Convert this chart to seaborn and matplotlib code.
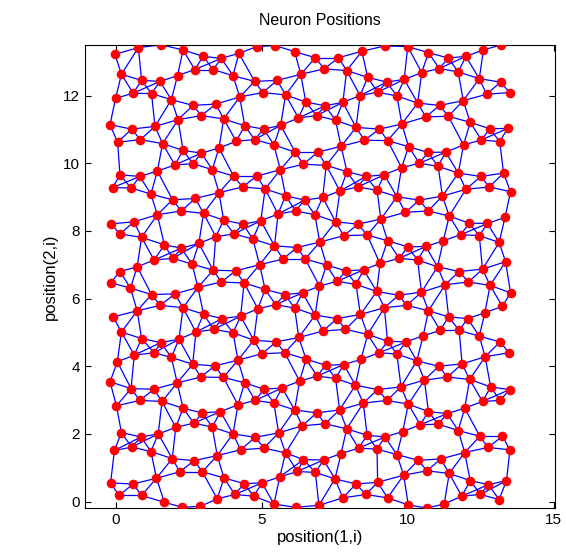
import numpy as np
import pandas as pd
import matplotlib.pyplot as plt
import seaborn as sns

# neuron positions (position(1,i), position(2,i))
pos_x = [
    -0.02, 0.78, 1.57, 2.31, 3.00, 3.62, 4.22, 2.71, 3.34, 4.02, 0.20, 0.89, 1.52, 2.12,
    0.00, 0.60, 1.23, 1.91, 2.65, 3.43, 4.25, 2.94, 2.14, 3.70, -0.19, 0.55, 1.35,
    0.07, 0.85, 1.61, 2.31, 2.94, 3.54, 4.13,
    4.84, 5.46, 6.13, 6.84, 7.63, 8.43, 7.14, 7.91, 6.34, 8.63,
    4.76, 5.53, 5.04, 5.82, 8.97, 8.37, 6.51, 7.17, 7.78, 6.26, 6.88, 7.53, 8.23, 9.03,
    4.42, 5.07, 5.65, 4.76, 5.42, 6.15, 6.92, 7.72, 8.52,
    9.22, 10.00, 10.71, 11.39, 11.99, 12.59, 13.20, 11.08, 11.73, 10.48, 9.88, 9.28, 12.45, 13.18,
    13.49, 12.70, 9.63, 10.34, 11.09, 11.90, 10.62, 11.39, 12.14, 9.80, 12.81, 13.42,
    9.31, 12.52, 13.15, 10.03, 11.91, 10.69, 11.30,
    2.03, 2.65, 0.15, 0.83, 1.43, 3.31, 4.04, -0.10, 0.53, 1.21, 3.54, 1.95, 2.73,
    2.25, 3.01, 1.43, -0.15, 0.63, 3.70, 0.15, 0.89, 3.43, 4.05, 1.67, 2.25, 2.85,
    1.32, 1.96, 2.62, 0.74, 0.15, 3.34, 4.11,
    6.43, 7.21, 5.64, 4.83, 4.35, 5.12, 7.92, 8.57, 7.68, 8.29, 8.95, 5.82, 6.47, 7.09,
    5.56, 6.16, 6.82, 4.97, 4.36, 7.53, 8.30, 4.70, 7.81, 8.61, 5.44, 6.21, 6.99,
    5.73, 6.49, 4.93, 7.22, 9.05, 7.89, 8.49,
    10.40, 9.79, 11.04, 9.20, 11.73, 12.50, 13.28, 11.99, 12.79, 13.52, 9.63, 10.40, 11.19,
    9.92, 10.70, 11.42, 9.08, 13.33, 12.10, 12.73, 11.82, 12.45, 9.31, 11.22, 13.13, 10.00, 10.62,
    9.71, 10.34, 11.02, 13.35, 11.76, 12.56,
    -0.17, 0.51, 1.23, 2.03, 2.82, 3.62, 1.53, 2.31, 0.74, -0.08, 3.01, 3.65, 4.28,
    3.36, 4.02, 2.75, 0.20, 0.89, 1.55, 2.17, 0.64, 1.32, 1.91, 0.06, 2.64, 3.39, 4.19,
    2.92, 3.69, -0.19, 2.11, 0.53, 1.31,
    4.40, 5.12, 5.79, 6.40, 6.98, 7.58, 8.23, 8.94, 5.48, 4.87, 6.13, 6.83, 7.58, 8.38,
    7.10, 7.87, 8.63, 4.73, 5.50, 6.27, 5.01, 5.79, 9.03, 6.52, 7.19, 7.81, 8.40,
    6.90, 7.53, 4.42, 6.30, 5.08, 5.70, 8.21, 8.97,
    11.28, 12.08, 12.82, 13.52, 10.47, 9.69, 9.20, 9.97, 13.24, 10.71, 12.64, 11.40, 12.05,
    11.11, 11.76, 10.53, 12.45, 9.31, 9.94, 13.16, 13.47, 9.63, 12.65, 10.31, 11.86, 11.06,
    10.57, 11.36, 12.12, 9.77, 12.84, 13.49,
    0.03, 0.83, 1.59, 2.31, 2.97, 3.59, 4.19, 2.68, 3.31, 2.06, 0.20, 0.87, 1.46, 4.02,
    -0.04, 0.55, 1.21, 3.48, 4.28, 1.94, 2.69, 2.20, 2.97, 1.40, 3.71, -0.17, 0.60,
    0.12, 0.89, 1.67, 2.28, 2.90, 3.48, 4.08,
    4.78, 5.42, 6.13, 6.88, 7.67, 8.48, 6.39, 7.17, 5.58, 7.91, 4.78, 8.61,
    5.08, 5.82, 6.43, 7.12, 7.72, 8.32, 8.95, 6.22, 6.84, 5.62, 7.51, 4.40, 5.01, 8.23, 8.97,
    4.73, 7.78, 8.57, 5.42, 6.16, 6.96,
    9.29, 10.02, 10.71, 11.35, 11.95, 12.56, 13.16, 10.43, 11.04, 9.83, 11.73, 9.22, 12.47, 13.24,
    12.75, 13.50, 11.95, 9.63, 10.36, 11.13, 10.66, 11.42, 9.86, 13.38, 12.14, 12.76,
    12.49, 11.85, 13.13, 9.31, 10.02, 10.66, 11.25,
]
pos_y = [
    13.22, 13.42, 13.50, 13.35, 13.16, 13.10, 13.25, 12.77, 12.77, 12.59, 12.63, 12.45, 12.42, 12.59,
    11.92, 12.07, 12.06, 11.88, 11.71, 11.75, 11.96, 11.41, 11.29, 11.31, 11.14, 11.01, 11.09,
    10.62, 10.70, 10.58, 10.38, 10.30, 10.45, 10.65,
    13.45, 13.48, 13.30, 13.12, 13.12, 13.31, 12.79, 12.74, 12.63, 12.54,
    12.42, 12.45, 12.09, 12.02, 12.10, 12.00, 11.81, 11.70, 11.80, 11.34, 11.41, 11.27, 11.06, 11.01,
    11.11, 11.01, 11.12, 10.70, 10.54, 10.33, 10.33, 10.50, 10.68,
    13.47, 13.45, 13.27, 13.11, 13.16, 13.35, 13.50, 12.80, 12.70, 12.68, 12.48, 12.40, 12.50, 12.40,
    12.09, 12.04, 11.99, 11.78, 11.71, 11.85, 11.37, 11.39, 11.21, 11.16, 11.02, 11.03,
    10.67, 10.69, 10.64, 10.49, 10.54, 10.32, 10.33,
    9.95, 9.99, 9.66, 9.61, 9.77, 9.81, 9.62, 9.28, 9.27, 9.09, 9.13, 8.92, 8.96,
    8.59, 8.52, 8.48, 8.21, 8.27, 8.32, 7.91, 7.81, 7.83, 7.91, 7.59, 7.49, 7.63,
    7.14, 7.19, 7.02, 6.94, 6.80, 6.84, 6.82,
    9.97, 9.94, 9.81, 9.62, 9.30, 9.24, 9.75, 9.61, 9.18, 9.30, 9.20, 9.04, 8.91, 8.99,
    8.50, 8.59, 8.48, 8.30, 8.20, 8.27, 8.20, 7.76, 7.86, 7.88, 7.56, 7.51, 7.67,
    7.17, 7.17, 7.00, 6.99, 7.04, 6.82, 6.85,
    10.00, 9.87, 9.91, 9.66, 9.71, 9.61, 9.71, 9.23, 9.30, 9.16, 9.01, 8.91, 9.03,
    8.55, 8.59, 8.44, 8.35, 8.40, 8.23, 8.22, 7.89, 7.86, 7.71, 7.71, 7.66, 7.53, 7.54,
    7.19, 7.14, 6.94, 7.09, 6.80, 6.87,
    6.47, 6.31, 6.12, 6.14, 6.33, 6.49, 5.80, 5.73, 5.64, 5.46, 5.54, 5.41, 5.48,
    5.09, 4.99, 5.01, 5.01, 4.82, 4.70, 4.80, 4.33, 4.40, 4.26, 4.13, 4.06, 4.01, 4.18,
    3.68, 3.67, 3.54, 3.51, 3.34, 3.32,
    6.46, 6.27, 6.12, 6.17, 6.37, 6.51, 6.42, 6.21, 5.82, 5.70, 5.72, 5.51, 5.41, 5.53,
    5.04, 5.09, 4.94, 4.77, 4.72, 4.85, 4.37, 4.40, 4.40, 4.21, 4.03, 4.05, 4.20,
    3.71, 3.64, 3.51, 3.56, 3.32, 3.36, 3.44, 3.31,
    6.41, 6.49, 6.39, 6.17, 6.19, 6.10, 5.73, 5.80, 5.77, 5.64, 5.58, 5.46, 5.41,
    5.06, 5.06, 4.90, 4.89, 4.74, 4.72, 4.72, 4.40, 4.36, 4.28, 4.16, 4.07, 4.00,
    3.59, 3.68, 3.61, 3.39, 3.39, 3.31,
    2.83, 2.99, 2.96, 2.76, 2.62, 2.66, 2.86, 2.32, 2.20, 2.19, 2.04, 1.91, 2.00, 2.00,
    1.51, 1.61, 1.48, 1.36, 1.53, 1.27, 1.21, 0.88, 0.88, 0.69, 0.70, 0.55, 0.52,
    0.18, 0.18, -0.02, -0.17, -0.14, 0.08, 0.21,
    2.99, 2.91, 2.71, 2.62, 2.71, 2.91, 2.24, 2.30, 2.03, 2.15, 1.90, 1.96,
    1.58, 1.44, 1.24, 1.23, 1.42, 1.58, 1.55, 0.89, 0.86, 0.73, 0.67, 0.53, 0.55, 0.52, 0.57,
    0.16, 0.11, 0.21, -0.07, -0.17, -0.11,
    2.99, 2.88, 2.66, 2.60, 2.76, 2.96, 2.99, 2.27, 2.29, 2.07, 2.10, 1.91, 1.93, 1.93,
    1.60, 1.53, 1.45, 1.39, 1.22, 1.26, 0.91, 0.83, 0.78, 0.62, 0.62, 0.50,
    0.21, 0.16, 0.06, 0.11, -0.10, -0.19, -0.07,
]
link_dist = 1.0

neurons = pd.DataFrame({"x": pos_x, "y": pos_y})

# link neurons within a Euclidean distance of 1
xy = neurons[["x", "y"]].to_numpy()
d = np.sqrt(((xy[:, None, :] - xy[None, :, :]) ** 2).sum(-1))
ii, jj = np.where(np.triu(d <= link_dist, k=1))
edges = pd.DataFrame({
    "x": np.r_[xy[ii, 0], xy[jj, 0]],
    "y": np.r_[xy[ii, 1], xy[jj, 1]],
    "edge": np.r_[np.arange(len(ii)), np.arange(len(ii))],
})

sns.set_theme(style="white")
plt.rcParams['font.family'] = ['Liberation Sans', 'DejaVu Sans']
plt.rcParams['xtick.direction'] = 'in'
plt.rcParams['ytick.direction'] = 'in'
plt.rcParams['text.color'] = 'black'
plt.rcParams['axes.labelcolor'] = 'black'
plt.rcParams['xtick.color'] = 'black'
plt.rcParams['ytick.color'] = 'black'

fig = plt.figure(figsize=(5.66, 5.58), dpi=100)
ax = fig.add_axes([0.150, 0.0896, 0.831, 0.830])

sns.lineplot(data=edges, x="x", y="y", units="edge", estimator=None, sort=False,
             color="blue", linewidth=0.9, ax=ax)
sns.scatterplot(data=neurons, x="x", y="y", color="red", s=48, edgecolor="red",
                linewidth=0, ax=ax, zorder=3)

ax.set_xlim(-1.05, 15.05)
ax.set_ylim(-0.19, 13.5)
ax.set_xticks([0, 5, 10, 15])
ax.set_yticks([0, 2, 4, 6, 8, 10, 12])
ax.tick_params(labelsize=11, length=4, width=0.8, colors="black",
               top=True, right=True, bottom=True, left=True)
for s in ax.spines.values():
    s.set_color("black")
    s.set_linewidth(0.8)

ax.set_title("Neuron Positions", fontsize=11.5, pad=14, color="black")
ax.set_xlabel("position(1,i)", fontsize=12, labelpad=2)
ax.set_ylabel("position(2,i)", fontsize=12, labelpad=4)

fig.savefig("out.png", dpi=100)
